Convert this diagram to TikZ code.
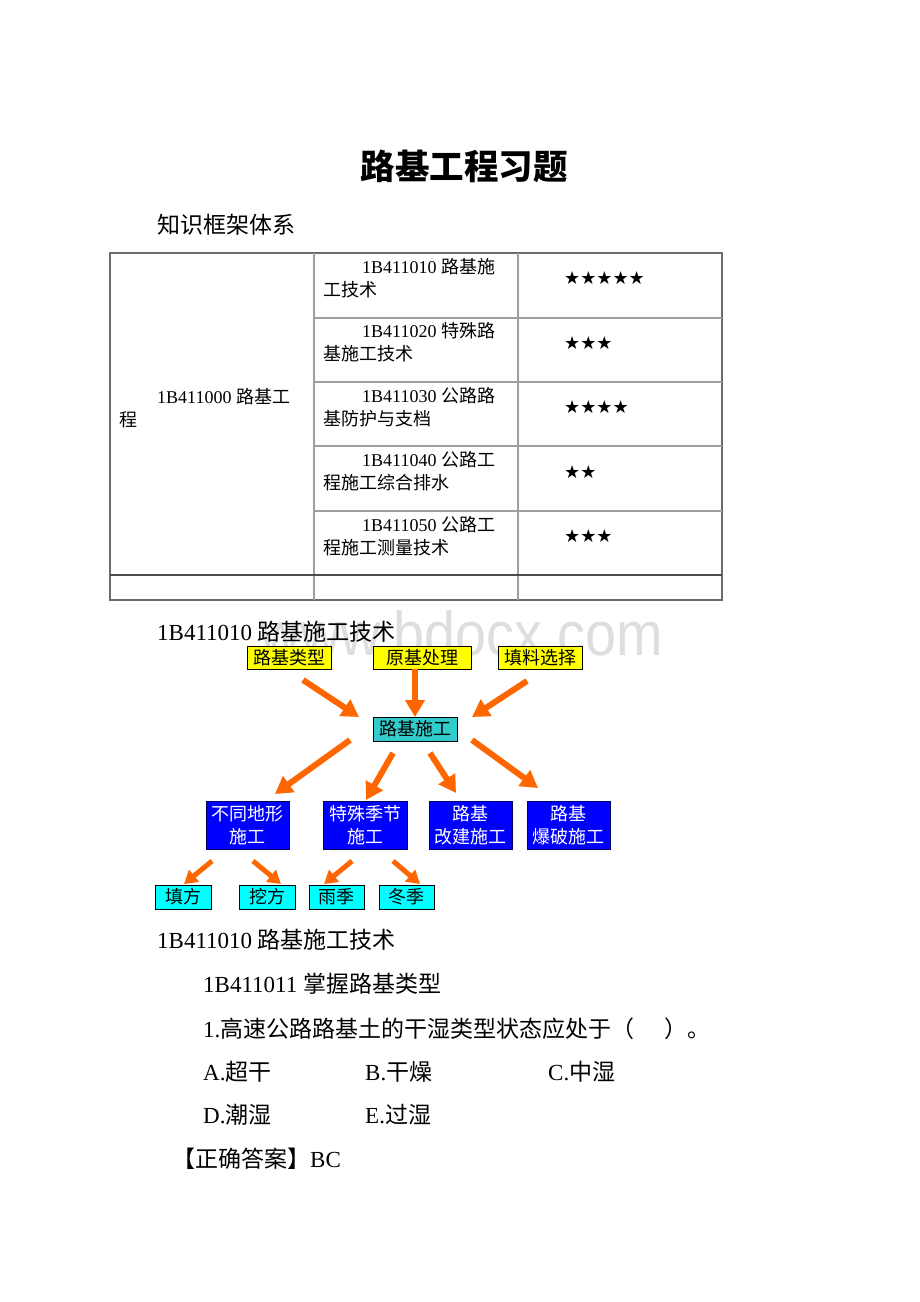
\documentclass[tikz,border=0pt]{standalone}
\usepackage{fontspec}
\setmainfont{Liberation Serif}
\newfontfamily\cjk{Noto Sans CJK SC}
\newfontfamily\sym{DejaVu Sans}
\newfontfamily\wmfont{Liberation Sans}
\usetikzlibrary{arrows.meta}
\definecolor{yel}{HTML}{FFFF00}
\definecolor{teal}{HTML}{33CCCC}
\definecolor{blu}{HTML}{0000FF}
\definecolor{cya}{HTML}{00FFFF}
\definecolor{org}{HTML}{FF6600}
\tikzset{txt/.style={anchor=base west,inner sep=0pt,font=\fontsize{23}{27}\selectfont}}
\tikzset{cell/.style={anchor=base west,inner sep=0pt,font=\fontsize{18}{22}\selectfont}}
\tikzset{stars/.style={anchor=west,inner sep=0pt,font=\sym\fontsize{18}{20}\selectfont}}
\tikzset{rule/.style={draw=gray!75,line width=1.2pt}}
\tikzset{box/.style={draw=black,line width=0.8pt,inner sep=0pt,align=center,font=\cjk\fontsize{18}{23}\selectfont}}
\tikzset{ybox/.style={box,fill=yel,minimum width=84pt,minimum height=23pt}}
\tikzset{tbox/.style={box,fill=teal,minimum width=84pt,minimum height=24pt}}
\tikzset{bbox/.style={box,fill=blu,text=white,draw=blue!40!black,minimum width=83pt,minimum height=48pt}}
\tikzset{cbox/.style={box,fill=cya,minimum width=56pt,minimum height=24pt}}
\tikzset{flow/.style={draw=org,line width=6pt,-{Triangle[length=17pt,width=19pt]}}}
\tikzset{subflow/.style={draw=org,line width=5pt,-{Triangle[length=13pt,width=15pt]}}}

\begin{document}
\begin{tikzpicture}[x=1pt,y=-1pt]
        \useasboundingbox[fill=white] (0,0) rectangle (920,1302);

        \node[anchor=base west,inner sep=0pt,text=black!13,xscale=0.9,font=\wmfont\fontsize{62}{62}\selectfont] (mark) at (260,655) {www.bdocx.com};

        \node[anchor=base,inner sep=0pt,font=\cjk\bfseries\fontsize{34.5}{36}\selectfont] (title) at (464,179) {路基工程习题};
        \node[txt] (frame) at (157,233) {\cjk 知识框架体系};

        \draw[rule,draw=gray!85!black] (110,253) rectangle (722,600);
        \draw[rule] (314,253) -- (314,600);
        \draw[rule] (518,253) -- (518,600);
        \draw[rule] (314,318) -- (722,318);
        \draw[rule] (314,382) -- (722,382);
        \draw[rule] (314,446) -- (722,446);
        \draw[rule] (314,511) -- (722,511);
        \draw[rule,draw=gray!60!black] (110,575) -- (722,575);

        \node[cell] (mainA) at (157,403) {1B411000 {\cjk 路基工}};
        \node[cell] (mainB) at (119,426) {\cjk 程};

        \node[cell] (secA1) at (362,273) {1B411010 {\cjk 路基施}};
        \node[cell] (secA2) at (323,296) {\cjk 工技术};
        \node[cell] (secB1) at (362,337.5) {1B411020 {\cjk 特殊路}};
        \node[cell] (secB2) at (323,360.5) {\cjk 基施工技术};
        \node[cell] (secC1) at (362,402) {1B411030 {\cjk 公路路}};
        \node[cell] (secC2) at (323,425) {\cjk 基防护与支档};
        \node[cell] (secD1) at (362,466.5) {1B411040 {\cjk 公路工}};
        \node[cell] (secD2) at (323,489.5) {\cjk 程施工综合排水};
        \node[cell] (secE1) at (362,531) {1B411050 {\cjk 公路工}};
        \node[cell] (secE2) at (323,554) {\cjk 程施工测量技术};

        \node[stars] (starA) at (564,278.5) {★★★★★};
        \node[stars] (starB) at (564,343) {★★★};
        \node[stars] (starC) at (564,407.5) {★★★★};
        \node[stars] (starD) at (564,472) {★★};
        \node[stars] (starE) at (564,536.5) {★★★};

        \node[txt] (headA) at (157,640) {1B411010 {\cjk 路基施工技术}};

        \node[ybox] (types) at (289,657.5) {路基类型};
        \node[ybox,minimum width=98pt] (ground) at (422,657.5) {原基处理};
        \node[ybox] (fill) at (540,657.5) {填料选择};
        \node[tbox] (build) at (415,729) {路基施工};
        \node[bbox] (terrain) at (247.5,825) {不同地形\\施工};
        \node[bbox,minimum width=84pt] (season) at (365,825) {特殊季节\\施工};
        \node[bbox] (rebuild) at (470.5,825) {路基\\改建施工};
        \node[bbox] (blast) at (568.5,825) {路基\\爆破施工};
        \node[cbox] (bank) at (183,897) {填方};
        \node[cbox] (cut) at (267,897) {挖方};
        \node[cbox,minimum width=55pt] (rain) at (336.5,897) {雨季};
        \node[cbox,minimum width=55pt] (winter) at (406.5,897) {冬季};

        \coordinate (typesOut) at (303,680);
        \coordinate (typesIn) at (359,717);
        \coordinate (groundOut) at (415,669);
        \coordinate (groundIn) at (415,717);
        \coordinate (fillOut) at (527,681);
        \coordinate (fillIn) at (472,717);
        \coordinate (buildA) at (350,740);
        \coordinate (buildB) at (393,753);
        \coordinate (buildC) at (430,753);
        \coordinate (buildD) at (472,740);
        \coordinate (terrainIn) at (275,794);
        \coordinate (seasonIn) at (366,800);
        \coordinate (rebuildIn) at (456,793);
        \coordinate (blastIn) at (538,788);
        \coordinate (terrainA) at (212,861);
        \coordinate (terrainB) at (253,861);
        \coordinate (seasonA) at (352,861);
        \coordinate (seasonB) at (393,861);
        \coordinate (bankIn) at (184,884);
        \coordinate (cutIn) at (281,884);
        \coordinate (rainIn) at (324,884);
        \coordinate (winterIn) at (420,884);

        \draw[flow] (typesOut) -- (typesIn);
        \draw[flow] (groundOut) -- (groundIn);
        \draw[flow] (fillOut) -- (fillIn);
        \draw[flow] (buildA) -- (terrainIn);
        \draw[flow] (buildB) -- (seasonIn);
        \draw[flow] (buildC) -- (rebuildIn);
        \draw[flow] (buildD) -- (blastIn);
        \draw[subflow] (terrainA) -- (bankIn);
        \draw[subflow] (terrainB) -- (cutIn);
        \draw[subflow] (seasonA) -- (rainIn);
        \draw[subflow] (seasonB) -- (winterIn);

        \node[txt] (headB) at (157,948) {1B411010 {\cjk 路基施工技术}};
        \node[txt] (point) at (203,992) {1B411011 {\cjk 掌握路基类型}};
        \node[txt] (quest) at (203,1037) {1.{\cjk 高速公路路基土的干湿类型状态应处于（\hspace{30pt}）。}};
        \node[txt] (optA) at (203,1080) {A.{\cjk 超干}};
        \node[txt] (optB) at (365,1080) {B.{\cjk 干燥}};
        \node[txt] (optC) at (548,1080) {C.{\cjk 中湿}};
        \node[txt] (optD) at (203,1123) {D.{\cjk 潮湿}};
        \node[txt] (optE) at (365,1123) {E.{\cjk 过湿}};
        \node[txt] (answer) at (172,1167) {{\cjk 【正确答案】}BC};
    \end{tikzpicture}
\end{document}
